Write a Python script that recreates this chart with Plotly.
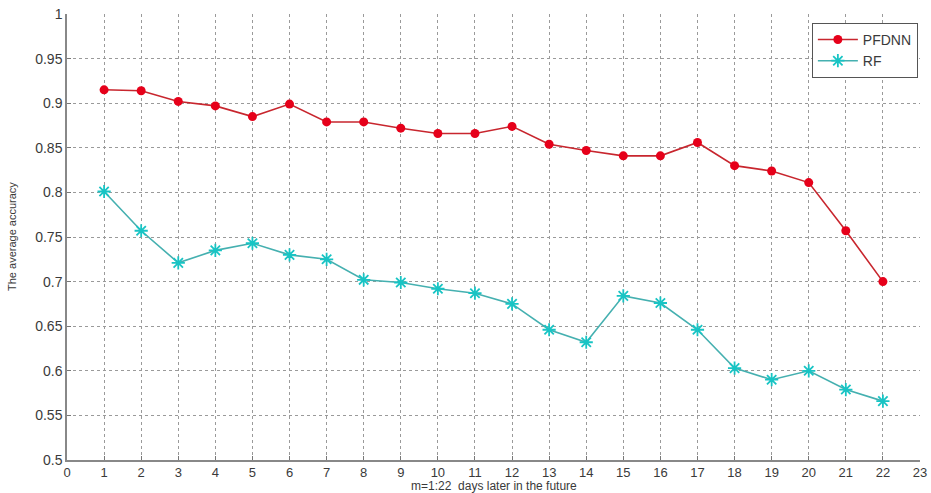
import plotly.graph_objects as go

# Forecast horizon (days ahead) and average accuracy of each model
days = list(range(1, 23))
pfdnn = [0.915, 0.914, 0.902, 0.897, 0.885, 0.899, 0.879, 0.879, 0.872, 0.866, 0.866,
         0.874, 0.854, 0.847, 0.841, 0.841, 0.856, 0.830, 0.824, 0.811, 0.757, 0.700]
rf = [0.801, 0.757, 0.721, 0.735, 0.743, 0.730, 0.725, 0.702, 0.699, 0.692, 0.687,
      0.675, 0.646, 0.632, 0.684, 0.676, 0.646, 0.603, 0.590, 0.600, 0.579, 0.566]

x_ticks = list(range(0, 24))
y_ticks = [0.5, 0.55, 0.6, 0.65, 0.7, 0.75, 0.8, 0.85, 0.9, 0.95, 1.0]
y_labels = ["0.5", "0.55", "0.6", "0.65", "0.7", "0.75", "0.8", "0.85", "0.9", "0.95", "1"]

x_title = "m=1:22  days later in the future"
y_title = "The average accuracy"

fig = go.Figure()
fig.add_trace(go.Scatter(
    x=days, y=pfdnn, name="PFDNN", mode="lines+markers",
    line=dict(color="#c8262e", width=1.6),
    marker=dict(symbol="circle", size=9, color="#e6001a"),
))
fig.add_trace(go.Scatter(
    x=days, y=rf, name="RF", mode="lines+markers",
    line=dict(color="#45b0b0", width=1.6),
    marker=dict(symbol="asterisk", size=11, color="#18c4c4",
                line=dict(color="#18c4c4", width=1.8)),
))

font = dict(family="Liberation Sans, Arial, sans-serif", size=14, color="#3a3a3a")
plot_h = 493 - 14 - 33
plot_w = 931 - 67 - 11

fig.update_layout(
    width=931, height=493,
    margin=dict(l=67, r=11, t=14, b=33),
    paper_bgcolor="white", plot_bgcolor="white",
    font=font,
    showlegend=True,
    legend=dict(x=0.9975, y=0.98, xanchor="right", yanchor="top",
                bordercolor="#555555", borderwidth=1, bgcolor="white",
                font=dict(size=14, color="#3a3a3a"),
                tracegroupgap=0, itemwidth=40),
    xaxis=dict(
        range=[0, 23], tickmode="array", tickvals=x_ticks,
        ticks="inside", ticklen=4, tickcolor="#777777",
        tickfont=dict(size=13),
        showline=True, linecolor="#888888", linewidth=1.5,
        showgrid=True, gridcolor="#9a9a9a", griddash="dot", gridwidth=1,
        zeroline=False, automargin=False,
    ),
    yaxis=dict(
        range=[0.5, 1.0], tickmode="array", tickvals=y_ticks, ticktext=y_labels,
        ticks="inside", ticklen=4, tickcolor="#777777",
        showline=True, linecolor="#888888", linewidth=1.5,
        showgrid=True, gridcolor="#9a9a9a", griddash="dot", gridwidth=1,
        zeroline=False, automargin=False,
    ),
    annotations=[
        dict(text=x_title, xref="paper", yref="paper", x=0.5, y=-26 / plot_h,
             xanchor="center", yanchor="middle", showarrow=False,
             font=dict(size=12, color="#3a3a3a")),
        dict(text=y_title, xref="paper", yref="paper", x=-55 / plot_w, y=0.5,
             xanchor="center", yanchor="middle", showarrow=False, textangle=-90,
             font=dict(size=11, color="#3a3a3a")),
    ],
)

fig.write_html("out.html")
